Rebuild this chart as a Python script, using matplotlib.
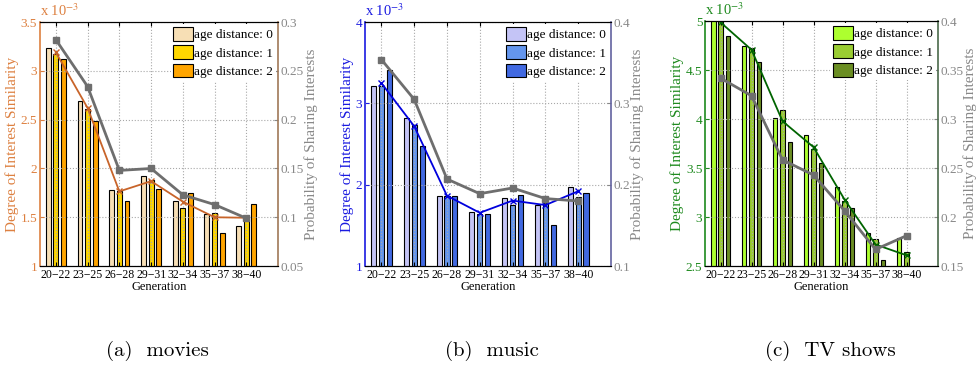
import numpy as np
import matplotlib
matplotlib.use("Agg")
from matplotlib import pyplot as plt
from matplotlib.patches import Patch

plt.rcParams['font.family'] = ['Liberation Serif', 'DejaVu Serif']
plt.rcParams['mathtext.fontset'] = 'stix'

generations = ["20\u221222", "23\u221225", "26\u221228", "29\u221231", "32\u221234", "35\u221237", "38\u221240"]
legend_labels = ["age distance: 0", "age distance: 1", "age distance: 2"]

# movies (x 1e-3 for similarity)
movies_d0 = [3.23, 2.69, 1.78, 1.92, 1.67, 1.53, 1.41]
movies_d1 = [3.17, 2.61, 1.77, 1.88, 1.60, 1.54, 1.47]
movies_d2 = [3.12, 2.49, 1.67, 1.79, 1.75, 1.34, 1.64]
movies_avg = [3.19, 2.62, 1.765, 1.87, 1.66, 1.50, 1.495]
movies_prob = [0.282, 0.234, 0.148, 0.150, 0.123, 0.113, 0.099]

# music
music_d0 = [3.21, 2.82, 1.86, 1.67, 1.84, 1.75, 1.97]
music_d1 = [3.21, 2.74, 1.86, 1.64, 1.75, 1.77, 1.85]
music_d2 = [3.41, 2.48, 1.86, 1.64, 1.87, 1.51, 1.90]
music_avg = [3.25, 2.72, 1.865, 1.655, 1.805, 1.75, 1.92]
music_prob = [0.354, 0.305, 0.207, 0.189, 0.196, 0.183, 0.180]

# TV shows
tv_d0 = [5.05, 4.745, 4.01, 3.84, 3.31, 2.84, 2.79]
tv_d1 = [5.02, 4.73, 4.09, 3.70, 3.16, 2.775, 2.64]
tv_d2 = [4.85, 4.59, 3.77, 3.555, 3.095, 2.56, 2.45]
tv_avg = [4.99, 4.71, 3.98, 3.715, 3.18, 2.72, 2.61]
tv_prob = [0.342, 0.324, 0.2585, 0.243, 0.2065, 0.167, 0.181]


def draw_panel(rect, d0, d1, d2, avg, prob, bar_colors, line_color, axis_color,
               rspine_color, ylim, yticks, rlim, rticks, caption, cap_x):
    ax = fig.add_axes(rect)
    x = np.arange(1, len(generations) + 1)
    w = 0.155
    off = 0.24
    for k, (vals, c) in enumerate(zip([d0, d1, d2], bar_colors)):
        ax.bar(x + (k - 1) * off, vals, width=w, color=c, edgecolor='black',
               linewidth=0.8, zorder=1)
    ax.plot(x, avg, color=line_color, marker='x', markersize=4, linewidth=1.3,
            zorder=3)
    ax.set_xlim(0.5, 8.0)
    ax.set_ylim(*ylim)
    ax.set_yticks(yticks)
    ax.set_yticklabels(["%g" % t for t in yticks])
    ax.set_xticks(x)
    ax.set_xticklabels(generations, fontsize=8.5)
    ax.set_axisbelow(False)
    ax.grid(True, linestyle=':', color='#a8a8a8', linewidth=0.8)
    ax.tick_params(axis='x', direction='in', length=3, pad=2, top=True)
    ax.tick_params(axis='y', direction='in', length=3, colors=axis_color,
                   labelsize=9.5, pad=2)
    ax.set_xlabel("Generation", fontsize=9, labelpad=0)
    ax.set_ylabel("Degree of Interest Similarity", fontsize=11, color=axis_color,
                  labelpad=1)
    ax.spines['left'].set_color(axis_color)
    ax.spines['right'].set_visible(False)
    ax.text(0.0, 1.012, r"x 10$^{-3}$", transform=ax.transAxes, color=axis_color,
            fontsize=10.5, ha='left', va='bottom')

    ax2 = ax.twinx()
    ax2.plot(x, prob, color='#6e6e6e', marker='s', markersize=5, linewidth=2,
             zorder=4)
    ax2.set_ylim(*rlim)
    ax2.set_yticks(rticks)
    ax2.set_yticklabels(["%g" % t for t in rticks])
    ax2.tick_params(axis='y', direction='in', length=3, colors='#888888',
                    labelsize=9.5, pad=2)
    ax2.set_ylabel("Probability of Sharing Interests", fontsize=11,
                   color='#888888', labelpad=0)
    ax2.spines['left'].set_visible(False)
    ax2.spines['right'].set_color(rspine_color)
    ax2.spines['right'].set_linewidth(1.2)
    ax.spines['left'].set_linewidth(1.2)

    handles = [Patch(facecolor=c, edgecolor='black', linewidth=0.8) for c in bar_colors]
    leg = ax2.legend(handles, legend_labels, loc='upper right', fontsize=9.5,
                     frameon=True, fancybox=False, edgecolor='none',
                     framealpha=1, borderaxespad=0.15, borderpad=0.2,
                     handlelength=1.5, handleheight=1.25, handletextpad=0.1,
                     labelspacing=0.3)
    leg.set_zorder(10)
    fig.text(cap_x, 0.05, caption, fontsize=15, family='cmr10',
             ha='center', va='center')
    return ax, ax2


fig = plt.figure(figsize=(9.78, 3.69), dpi=100)

draw_panel([0.0409, 0.279, 0.2434, 0.661], movies_d0, movies_d1, movies_d2,
           movies_avg, movies_prob, ['#f7dfb5', '#ffd700', '#ffa500'],
           '#c8642a', '#dd8040', '#a07858', (1, 3.5),
           [1, 1.5, 2, 2.5, 3, 3.5], (0.05, 0.3),
           [0.05, 0.1, 0.15, 0.2, 0.25, 0.3], "(a)  movies", 0.161)

draw_panel([0.3732, 0.279, 0.2515, 0.661], music_d0, music_d1, music_d2,
           music_avg, music_prob, ['#c4c4f6', '#6496ee', '#4169e1'],
           '#0000dd', '#1a1ae0', '#6262a0', (1, 4),
           [1, 2, 3, 4], (0.1, 0.4),
           [0.1, 0.2, 0.3, 0.4], "(b)  music", 0.503)

draw_panel([0.7209, 0.279, 0.2377, 0.663], tv_d0, tv_d1, tv_d2,
           tv_avg, tv_prob, ['#adff2f', '#9acd32', '#6b8e23'],
           '#006400', '#1e8a1e', '#4a6a4a', (2.5, 5),
           [2.5, 3, 3.5, 4, 4.5, 5], (0.15, 0.4),
           [0.15, 0.2, 0.25, 0.3, 0.35, 0.4], "(c)  TV shows", 0.849)

fig.savefig("out.png", dpi=100)
